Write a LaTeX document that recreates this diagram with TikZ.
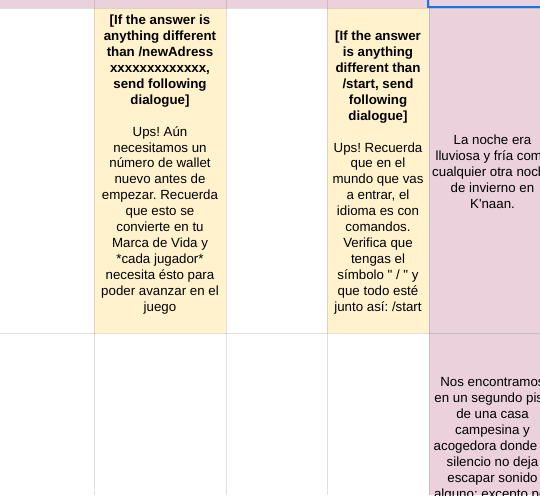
\documentclass[tikz,border=0pt]{standalone}
\usepackage{fontspec}
\setmainfont{Liberation Sans}[Ligatures=TeXOff]
\usepackage{tikz}
\definecolor{cellPink}{HTML}{EAD1DC}
\definecolor{cellYellow}{HTML}{FFF2CC}
\definecolor{selBlue}{HTML}{1A73E8}
\frenchspacing
\begin{document}
\begin{tikzpicture}[
    x=1pt, y=-1pt,
    cell/.style={align=center, inner sep=0pt, font=\fontsize{13.3}{15.9}\selectfont},
    grid/.style={draw=black, draw opacity=0.12, line width=0.8pt}
]
    \useasboundingbox (0,0) rectangle (540,495);
    \clip (0,0) rectangle (540,495);

    % cell fills
    \fill[cellPink] (0,0) rectangle (540,8);
    \fill[cellYellow] (94,8) rectangle (226,333);
    \fill[cellYellow] (327,8) rectangle (429,333);
    \fill[cellPink] (429,8) rectangle (540,495);

    % grid lines
    \foreach \gx in {94,226,327,429}
        \draw[grid] (\gx,0) -- (\gx,495);
    \foreach \gy in {8,333}
        \draw[grid] (0,\gy) -- (540,\gy);

    % selected cell
    \draw[selBlue, line width=2pt] (428.3,-2) -- (428.3,7.3) -- (542,7.3);

    \node[cell] (wallet) at (160,164.5) {\textbf{[If the answer is}\\
        \textbf{anything different}\\ \textbf{than /newAdress}\\
        \textbf{xxxxxxxxxxxxx,}\\ \textbf{send following}\\
        \textbf{dialogue]}\\[15.9pt]
        Ups! Aún\\ necesitamos un\\ número de wallet\\ nuevo antes de\\
        empezar. Recuerda\\ que esto se\\ convierte en tu\\ Marca de Vida y\\
        *cada jugador*\\ necesita ésto para\\ poder avanzar en el\\ juego};
    \node[cell] (start) at (378,172.5) {\textbf{[If the answer}\\
        \textbf{is anything}\\ \textbf{different than}\\ \textbf{/start, send}\\
        \textbf{following}\\ \textbf{dialogue]}\\[15.9pt]
        Ups! Recuerda\\ que en el\\ mundo que vas\\ a entrar, el\\
        idioma es con\\ comandos.\\ Verifica que\\ tengas el\\
        símbolo " / " y\\ que todo esté\\ junto así: /start};
    \node[cell] (noche) at (492.5,172) {La noche era\\ lluviosa y fría como\\
        cualquier otra noche\\ de invierno en\\ K'naan.};
    \node[cell] (casa) at (492.5,439.4) {Nos encontramos\\ en un segundo piso\\
        de una casa\\ campesina y\\ acogedora donde el\\ silencio no deja\\
        escapar sonido\\ alguno; excepto por};
\end{tikzpicture}
\end{document}
